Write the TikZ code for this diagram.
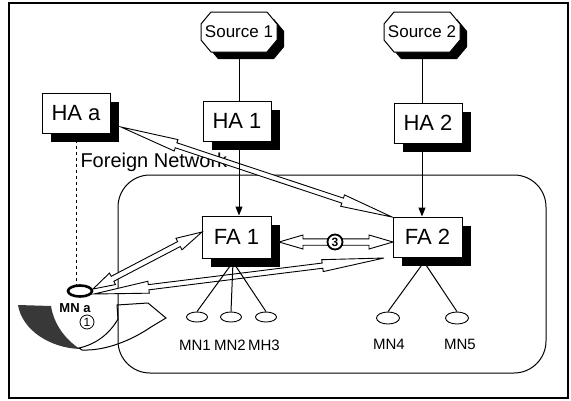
\documentclass[tikz,border=0pt]{standalone}
\usepackage{fontspec}
\setmainfont{Liberation Sans}
\usetikzlibrary{calc,shadows,shapes.geometric,arrows.meta}

% hollow double-headed arrow: #1 start, #2 end, #3 head length at start, #4 head length at end, #5 shaft half width, #6 head half width
\newcommand\hollowarr[6]{%
 \draw[line width=0.9pt, fill=white, line join=miter] (#1)
   -- ($ ($(#1)!#3!(#2)$)!#6!90:(#2) $)
   -- ($ ($(#1)!#3!(#2)$)!#5!90:(#2) $)
   -- ($ ($(#2)!#4!(#1)$)!#5!-90:(#1) $)
   -- ($ ($(#2)!#4!(#1)$)!#6!-90:(#1) $)
   -- (#2)
   -- ($ ($(#2)!#4!(#1)$)!#6!90:(#1) $)
   -- ($ ($(#2)!#4!(#1)$)!#5!90:(#1) $)
   -- ($ ($(#1)!#3!(#2)$)!#5!-90:(#2) $)
   -- ($ ($(#1)!#3!(#2)$)!#6!-90:(#2) $)
   -- cycle;}

\newcommand\octpath{(-28,-20) -- (28,-20) -- (38,-8) -- (38,8) -- (28,20) -- (-28,20) -- (-38,8) -- (-38,-8) -- cycle}

\begin{document}
\begin{tikzpicture}[x=1pt, y=-1pt, line width=1pt,
  box/.style={draw, fill=white, line width=1pt, minimum width=68pt, minimum height=40pt,
    inner sep=0pt, font=\fontsize{22}{24}\selectfont,
    drop shadow={shadow xshift=9pt, shadow yshift=-9pt, opacity=1, fill=black}},
  srctext/.style={minimum width=76pt, minimum height=40pt, inner sep=0pt, font=\fontsize{17}{20}\selectfont},
  mn/.style={draw, ellipse, minimum width=21pt, minimum height=10pt, inner sep=0pt, line width=0.9pt},
  mnlabel/.style={font=\fontsize{15}{17}\selectfont, inner sep=0pt},
  num/.style={draw, circle, fill=white, inner sep=0pt, minimum size=14pt, font=\fontsize{12}{13}\selectfont}
]
\useasboundingbox (0,0) rectangle (571,400);
\draw[line width=1.2pt] (9,3) rectangle (568,398);

% movement arrow of MN a
\fill[black!78] (18,305) .. controls (22,330) and (50,348) .. (80,349) .. controls (66,340) and (54,325) .. (51,306) -- cycle;
\draw[fill=white, line width=1pt, line join=miter] (79,348) .. controls (97,344) and (110,333) .. (118,319)
  -- (117,305) -- (148,303) -- (166,318) -- (151,327) .. controls (132,340) and (106,351) .. (82,350) -- cycle;

% foreign network
\draw[line width=1pt, rounded corners=32pt] (118,175) rectangle (546,373);
\node[anchor=base west, inner sep=0pt, font=\fontsize{20}{22}\selectfont] (fn) at (80,167) {Foreign Network};

% sources
\begin{scope}[shift={(246,39)}] \fill[black] \octpath; \end{scope}
\begin{scope}[shift={(239,32)}] \draw[fill=white] \octpath; \end{scope}
\node[srctext] (src1) at (239,32) {Source 1};
\begin{scope}[shift={(429,39)}] \fill[black] \octpath; \end{scope}
\begin{scope}[shift={(422,32)}] \draw[fill=white] \octpath; \end{scope}
\node[srctext] (src2) at (422,32) {Source 2};

% agents
\node[box] (haa) at (76,113) {HA a};
\node[box] (ha1) at (237,121) {HA 1};
\node[box] (ha2) at (428,123) {HA 2};
\node[box, minimum width=69pt, minimum height=42pt] (fa1) at (236.5,237) {FA 1};
\node[box, minimum width=69pt, minimum height=40pt] (fa2) at (427.5,237) {FA 2};

% mobile node a
\node[draw, ellipse, line width=2.6pt, minimum width=24pt, minimum height=11pt, inner sep=0pt] (mna) at (80,291) {};
\node[font=\bfseries\fontsize{13}{15}\selectfont, inner sep=0pt] (mnalabel) at (75,308) {MN a};
\draw[dashed, line width=0.7pt] (haa.south) -- (haa.south |- mna.north);
\node[num, line width=0.8pt] (n1) at (87,322) {1};

% hollow arrows
\coordinate (a1s) at (121,127);
\coordinate (a1e) at (392,217);
\hollowarr{a1s}{a1e}{58pt}{52pt}{2.6pt}{6pt}
\coordinate (a2s) at (93,289);
\coordinate (a2e) at (202,232);
\hollowarr{a2s}{a2e}{22pt}{26pt}{2.8pt}{6.5pt}
\coordinate (a3s) at (94,294);
\coordinate (a3e) at (384,258);
\hollowarr{a3s}{a3e}{55pt}{62pt}{2.6pt}{6pt}
\coordinate (a4s) at (279,242);
\coordinate (a4e) at (393,242);
\hollowarr{a4s}{a4e}{24pt}{24pt}{3.2pt}{7pt}
\node[num, line width=1.8pt, minimum size=15pt, font=\bfseries\fontsize{12}{13}\selectfont] (n3) at (335,242) {3};

% vertical connections
\draw (src1.south) -- (src1.south |- ha1.north);
\draw (src2.south) -- (src2.south |- ha2.north);
\draw[-{Triangle[length=9pt,width=7pt]}] (src1 |- ha1.south) -- (src1 |- fa1.north);
\draw[-{Triangle[length=9pt,width=7pt]}] (src2 |- ha2.south) -- (src2 |- fa2.north);

% mobile nodes
\node[mn] (mn1) at (197,317) {};
\node[mn] (mn2) at (231,317) {};
\node[mn] (mh3) at (266,317) {};
\node[mn, minimum width=23pt, minimum height=12pt] (mn4) at (388,318) {};
\node[mn, minimum width=23pt, minimum height=12pt] (mn5) at (457,318) {};
\coordinate (fa1b) at (233,262);
\coordinate (fa2b) at (424,262);
\draw (fa1b) -- (mn1.north);
\draw (fa1b) -- (mn2.north);
\draw (fa1b) -- (mh3.north);
\draw (fa2b) -- (mn4.north);
\draw (fa2b) -- (mn5.north);
\node[mnlabel] (l1) at (195,345) {MN1};
\node[mnlabel] (l2) at (230,345) {MN2};
\node[mnlabel] (l3) at (264,345) {MH3};
\node[mnlabel] (l4) at (389,344) {MN4};
\node[mnlabel] (l5) at (460,344) {MN5};
\end{tikzpicture}
\end{document}
